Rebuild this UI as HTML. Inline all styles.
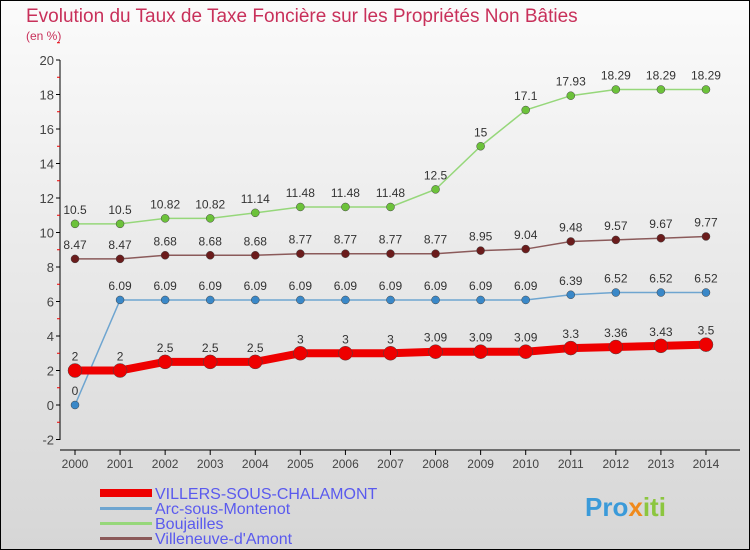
<!DOCTYPE html>
<html><head><meta charset="utf-8"><style>
body{margin:0}
#c{width:750px;height:550px;position:relative;overflow:hidden;box-sizing:border-box;border:1px solid #000;background:linear-gradient(#fbfbfb,#d6d6d6);font-family:"Liberation Sans",sans-serif}
text{font-family:"Liberation Sans",sans-serif}
</style></head><body>
<div id="c">
<svg id="s" width="750" height="550" style="position:absolute;left:-1px;top:-1px">
<text x="26" y="22" font-size="19" fill="#c8305a">Evolution du Taux de Taxe Foncière sur les Propriétés Non Bâties</text>
<text x="26" y="40" font-size="12" fill="#c8305a">(en %)</text>
<line x1="60" y1="60" x2="60" y2="440" stroke="#000"/>
<line x1="60" y1="450" x2="740" y2="450" stroke="#000"/>
<g id="ax"></g><g id="ser"></g>
<g font-size="16" fill="#5a5aee">
<rect x="100" y="489" width="52" height="8" fill="#e00"/>
<text x="155" y="499">VILLERS-SOUS-CHALAMONT</text>
<rect x="100" y="507" width="52" height="3" fill="#6ea5d0"/>
<text x="155" y="514">Arc-sous-Montenot</text>
<rect x="100" y="522" width="52" height="3" fill="#96d77a"/>
<text x="155" y="529">Boujailles</text>
<rect x="100" y="537" width="52" height="3" fill="#8b5a5a"/>
<text x="155" y="544">Villeneuve-d'Amont</text>
</g>
<text x="585" y="516" font-size="26" font-weight="bold" fill="#3a9ad9">Pro<tspan fill="#f08a1c">x</tspan><tspan fill="#8cc63f">iti</tspan></text>
</svg>
</div>
<script>
const years=[2000,2001,2002,2003,2004,2005,2006,2007,2008,2009,2010,2011,2012,2013,2014];
const yTicks=[-2,0,2,4,6,8,10,12,14,16,18,20];
const villers=[2,2,2.5,2.5,2.5,3,3,3,3.09,3.09,3.09,3.3,3.36,3.43,3.5];
const arc=[0,6.09,6.09,6.09,6.09,6.09,6.09,6.09,6.09,6.09,6.09,6.39,6.52,6.52,6.52];
const boujailles=[10.5,10.5,10.82,10.82,11.14,11.48,11.48,11.48,12.5,15,17.1,17.93,18.29,18.29,18.29];
const villeneuve=[8.47,8.47,8.68,8.68,8.68,8.77,8.77,8.77,8.77,8.95,9.04,9.48,9.57,9.67,9.77];
const NS="http://www.w3.org/2000/svg";
const X=i=>75+i*45.07, Y=v=>405-v*17.25;
function mk(t,a,p){const e=document.createElementNS(NS,t);for(const k in a)e.setAttribute(k,a[k]);p.appendChild(e);return e;}
const ax=document.getElementById('ax');
yTicks.forEach(v=>{
 const l=mk('line',{x1:56,x2:60,y1:Y(v),y2:Y(v),stroke:'#000'},ax);
 
 
 const r=mk('line',{x1:57,x2:60,y1:Y(v+1),y2:Y(v+1),stroke:'#e00'},ax);
 
 
 const t=mk('text',{x:54,y:Y(v)+5,'text-anchor':'end','font-size':13,fill:'#444'},ax);t.textContent=v;
 
 
});
years.forEach((y,i)=>{
 const l=mk('line',{x1:X(i),x2:X(i),y1:450,y2:455,stroke:'#000'},ax);
 
 
 const t=mk('text',{x:X(i),y:468,'text-anchor':'middle','font-size':12,fill:'#444'},ax);t.textContent=y;
 
 
});
const ser=document.getElementById('ser');
function draw(vals,name,col,dot,w,r){
 const g=mk('g',{},ser);
 
 
 const p=mk('polyline',{points:vals.map((v,i)=>X(i)+','+Y(v)).join(' '),fill:'none',stroke:col,'stroke-width':w},g);
 
 
 vals.forEach((v,i)=>{
  const c=mk('circle',{cx:X(i),cy:Y(v),r:r,fill:dot,stroke:'#444','stroke-width':0.5},g);
  
  
  const t=mk('text',{x:X(i),y:Y(v)-10,'text-anchor':'middle','font-size':12,fill:'#333'},g);t.textContent=v;
  
  
 });
}
draw(boujailles,'boujailles','#96d77a','#6cc23a',1.5,4);
draw(villeneuve,'villeneuve','#8b5a5a','#6b1c1c',1.5,4);
draw(arc,'arc','#6ea5d0','#3a88c8',1.5,4);
draw(villers,'villers','#e00','#e00',8,7);
</script>
</body></html>
